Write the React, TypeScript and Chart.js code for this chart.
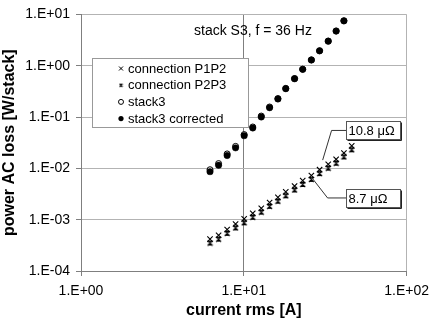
import React, { useEffect, useRef } from "react";
import { Chart, registerables } from "chart.js";

Chart.register(...registerables);

// ---- data ----
const currents = [6.2, 7.0, 7.9, 8.9, 10.05, 11.35, 12.8, 14.4, 16.2, 18.1, 20.5, 23.0, 26.0, 29.2, 33.0, 36.9, 41.2, 46.0];
const lossP1P2 = [4.18e-4, 4.97e-4, 6.44e-4, 8.24e-4, 1.035e-3, 1.33e-3, 1.67e-3, 2.16e-3, 2.72e-3, 3.48e-3, 4.52e-3, 5.78e-3, 7.26e-3, 9.42e-3, 1.205e-2, 1.5e-2, 1.99e-2, 2.74e-2];
const lossP2P3 = [3.51e-4, 4.17e-4, 5.41e-4, 6.92e-4, 8.69e-4, 1.114e-3, 1.4e-3, 1.82e-3, 2.29e-3, 2.92e-3, 3.79e-3, 4.85e-3, 6.1e-3, 7.91e-3, 1.01e-2, 1.26e-2, 1.67e-2, 2.3e-2];
const lossStack3 = [0.0094, 0.0124, 0.0191, 0.0268, 0.0455, 0.064, 0.1045, 0.157, 0.229, 0.362, 0.563, 0.855, 1.3, 1.96, 3.02, 4.75, 7.5];
const lossStack3Corrected = [0.00863, 0.0115, 0.0178, 0.0251, 0.0434, 0.0613, 0.1005, 0.152, 0.225, 0.357, 0.557, 0.849, 1.29, 1.95, 3.01, 4.73, 7.48];

const xTickValues = [1, 10, 100];
const xTickLabels = ["1.E+00", "1.E+01", "1.E+02"];
const yTickValues = [1e-4, 1e-3, 1e-2, 1e-1, 1, 10];
const yTickLabels = ["1.E-04", "1.E-03", "1.E-02", "1.E-01", "1.E+00", "1.E+01"];

const seriesNames = ["connection P1P2", "connection P2P3", "stack3", "stack3 corrected"];
const titleText = "stack S3, f = 36 Hz";
const xAxisTitle = "current rms [A]";
const yAxisTitle = "power AC loss [W/stack]";

const annotations = [
  { text: "10.8 \u03bc\u03a9", tipX: 30.5, tipY: 0.0145, elbowX: 34.6, elbowY: 0.0548, boxX: 42.6 },
  { text: "8.7 \u03bc\u03a9", tipX: 25.9, tipY: 0.00686, elbowX: 32.7, elbowY: 0.00265, boxX: 42.6 },
];

function toPoints(ys: number[]) {
  return ys.map((y, i) => ({ x: currents[i], y }));
}

function makeBarCross(size: number): HTMLCanvasElement {
  const c = document.createElement("canvas");
  c.width = size;
  c.height = size;
  const g = c.getContext("2d")!;
  g.strokeStyle = "#000";
  g.lineWidth = 1.1;
  const a = 1, b = size - 1;
  g.beginPath();
  g.moveTo(a, a); g.lineTo(b, b);
  g.moveTo(b, a); g.lineTo(a, b);
  g.moveTo(a + 0.5, a + 0.5); g.lineTo(b - 0.5, a + 0.5);
  g.moveTo(a + 0.5, b - 0.5); g.lineTo(b - 0.5, b - 0.5);
  g.stroke();
  return c;
}

const SANS = "'Liberation Sans', Arial, sans-serif";

export default function App() {
  const ref = useRef<HTMLCanvasElement | null>(null);

  useEffect(() => {
    document.body.style.margin = "0";
    const canvas = ref.current!;
    const barCross = makeBarCross(7);
    const barCrossSmall = makeBarCross(5);

    const overlay = {
      id: "overlay",
      afterDraw(chart: any) {
        const ctx = chart.ctx as CanvasRenderingContext2D;
        const ca = chart.chartArea;
        const xs = chart.scales.x;
        const ys = chart.scales.y;
        ctx.save();

        // title
        ctx.fillStyle = "#000";
        ctx.font = `14px ${SANS}`;
        ctx.textAlign = "left";
        ctx.textBaseline = "middle";
        ctx.fillText(titleText, ca.left + 113, ca.top + 17);

        // annotations
        ctx.font = `13px ${SANS}`;
        for (const a of annotations) {
          const tx = xs.getPixelForValue(a.tipX), ty = ys.getPixelForValue(a.tipY);
          const ex = xs.getPixelForValue(a.elbowX), ey = ys.getPixelForValue(a.elbowY);
          const bx = Math.round(xs.getPixelForValue(a.boxX)) + 0.5;
          const bw = 54, bh = 18;
          const by = Math.round(ey - bh / 2) + 0.5;
          ctx.strokeStyle = "#333";
          ctx.lineWidth = 1;
          ctx.beginPath();
          ctx.moveTo(tx, ty);
          ctx.lineTo(ex, ey);
          ctx.lineTo(bx, ey);
          ctx.stroke();
          ctx.fillStyle = "#fff";
          ctx.fillRect(bx, by, bw, bh);
          ctx.strokeStyle = "#555";
          ctx.strokeRect(bx, by, bw, bh);
          ctx.strokeStyle = "#222";
          ctx.beginPath();
          ctx.moveTo(bx + bw + 1, by + 1);
          ctx.lineTo(bx + bw + 1, by + bh + 1);
          ctx.lineTo(bx + 1, by + bh + 1);
          ctx.stroke();
          ctx.fillStyle = "#000";
          ctx.textAlign = "left";
          ctx.textBaseline = "middle";
          ctx.fillText(a.text, bx + 2, by + bh / 2 + 0.5);
        }

        // legend
        const lx = Math.round(ca.left + 11) + 0.5;
        const ly = Math.round(ca.top + 44) + 0.5;
        const lw = 156, lh = 69;
        ctx.fillStyle = "#fff";
        ctx.fillRect(lx, ly, lw, lh);
        ctx.strokeStyle = "#999";
        ctx.lineWidth = 1;
        ctx.strokeRect(lx, ly, lw, lh);
        ctx.font = `13px ${SANS}`;
        ctx.textAlign = "left";
        ctx.textBaseline = "middle";
        const mx = lx + 28.5;
        seriesNames.forEach((name, i) => {
          const cy = ly + 10 + i * 16.7;
          ctx.strokeStyle = "#000";
          ctx.fillStyle = "#000";
          ctx.lineWidth = 1;
          if (i === 0) {
            ctx.beginPath();
            ctx.moveTo(mx - 2, cy - 2); ctx.lineTo(mx + 2, cy + 2);
            ctx.moveTo(mx + 2, cy - 2); ctx.lineTo(mx - 2, cy + 2);
            ctx.stroke();
          } else if (i === 1) {
            ctx.drawImage(barCrossSmall, mx - 2.5, cy - 2.5);
          } else if (i === 2) {
            ctx.beginPath();
            ctx.arc(mx, cy, 2.5, 0, Math.PI * 2);
            ctx.fillStyle = "#fff";
            ctx.fill();
            ctx.stroke();
          } else {
            ctx.beginPath();
            ctx.arc(mx, cy, 2.6, 0, Math.PI * 2);
            ctx.fill();
          }
          ctx.fillStyle = "#000";
          ctx.fillText(name, mx + 7, cy + 0.5);
        });

        // axis titles
        ctx.font = `bold 16px ${SANS}`;
        ctx.textAlign = "center";
        ctx.textBaseline = "middle";
        ctx.fillText(xAxisTitle, (ca.left + ca.right) / 2, ca.bottom + 40);
        ctx.translate(10, (ca.top + ca.bottom) / 2);
        ctx.rotate(-Math.PI / 2);
        ctx.fillText(yAxisTitle, 0, 0);
        ctx.restore();
      },
    };

    const chart = new Chart(canvas, {
      type: "scatter",
      data: {
        datasets: [
          {
            label: seriesNames[0],
            data: toPoints(lossP1P2),
            pointStyle: "crossRot",
            pointRadius: 3.8,
            borderColor: "#000",
            backgroundColor: "#000",
            borderWidth: 1.1,
            order: 3,
          },
          {
            label: seriesNames[1],
            data: toPoints(lossP2P3),
            pointStyle: barCross as any,
            pointRadius: 3.5,
            borderColor: "#000",
            backgroundColor: "#000",
            order: 4,
          },
          {
            label: seriesNames[2],
            data: toPoints(lossStack3),
            pointStyle: "circle",
            pointRadius: 3,
            borderColor: "#000",
            backgroundColor: "#fff",
            borderWidth: 1,
            order: 2,
          },
          {
            label: seriesNames[3],
            data: toPoints(lossStack3Corrected),
            pointStyle: "circle",
            pointRadius: 3.2,
            borderColor: "#000",
            backgroundColor: "#000",
            borderWidth: 0.5,
            order: 1,
          },
        ],
      },
      options: {
        animation: false,
        responsive: false,
        maintainAspectRatio: false,
        layout: { padding: { top: 5, right: 24, left: 0, bottom: 0 } },
        plugins: { legend: { display: false }, tooltip: { enabled: false }, title: { display: false } },
        scales: {
          x: {
            type: "logarithmic",
            min: 1,
            max: 100,
            afterBuildTicks: (scale: any) => {
              scale.ticks = xTickValues.map((v) => ({ value: v }));
            },
            afterFit: (scale: any) => {
              scale.height = 56;
            },
            ticks: {
              autoSkip: false,
              maxRotation: 0,
              padding: 7,
              color: "#000",
              font: { family: SANS, size: 14 },
              callback: (_v: any, i: number) => xTickLabels[i],
            },
            grid: {
              color: (c: any) => (c.tick && c.tick.value === 10 ? "#7f7f7f" : c.tick && c.tick.value === 100 ? "#b3b3b3" : "rgba(0,0,0,0)"),
              tickColor: "#7f7f7f",
              tickLength: 5,
              lineWidth: 1,
            },
            border: { color: "#7f7f7f", width: 1 },
          },
          y: {
            type: "logarithmic",
            min: 1e-4,
            max: 10,
            afterBuildTicks: (scale: any) => {
              scale.ticks = yTickValues.map((v) => ({ value: v }));
            },
            afterFit: (scale: any) => {
              scale.width = 81;
            },
            ticks: {
              autoSkip: false,
              padding: 6,
              color: "#000",
              font: { family: SANS, size: 14 },
              callback: (_v: any, i: number) => yTickLabels[i],
            },
            grid: {
              color: "#b3b3b3",
              tickColor: "#7f7f7f",
              tickLength: 5,
              lineWidth: 1,
            },
            border: { color: "#7f7f7f", width: 1 },
          },
        },
      },
      plugins: [overlay],
    });

    return () => chart.destroy();
  }, []);

  return (
    <div style={{ width: 436, height: 327 }}>
      <canvas ref={ref} width={436} height={327} style={{ display: "block" }} />
    </div>
  );
}
